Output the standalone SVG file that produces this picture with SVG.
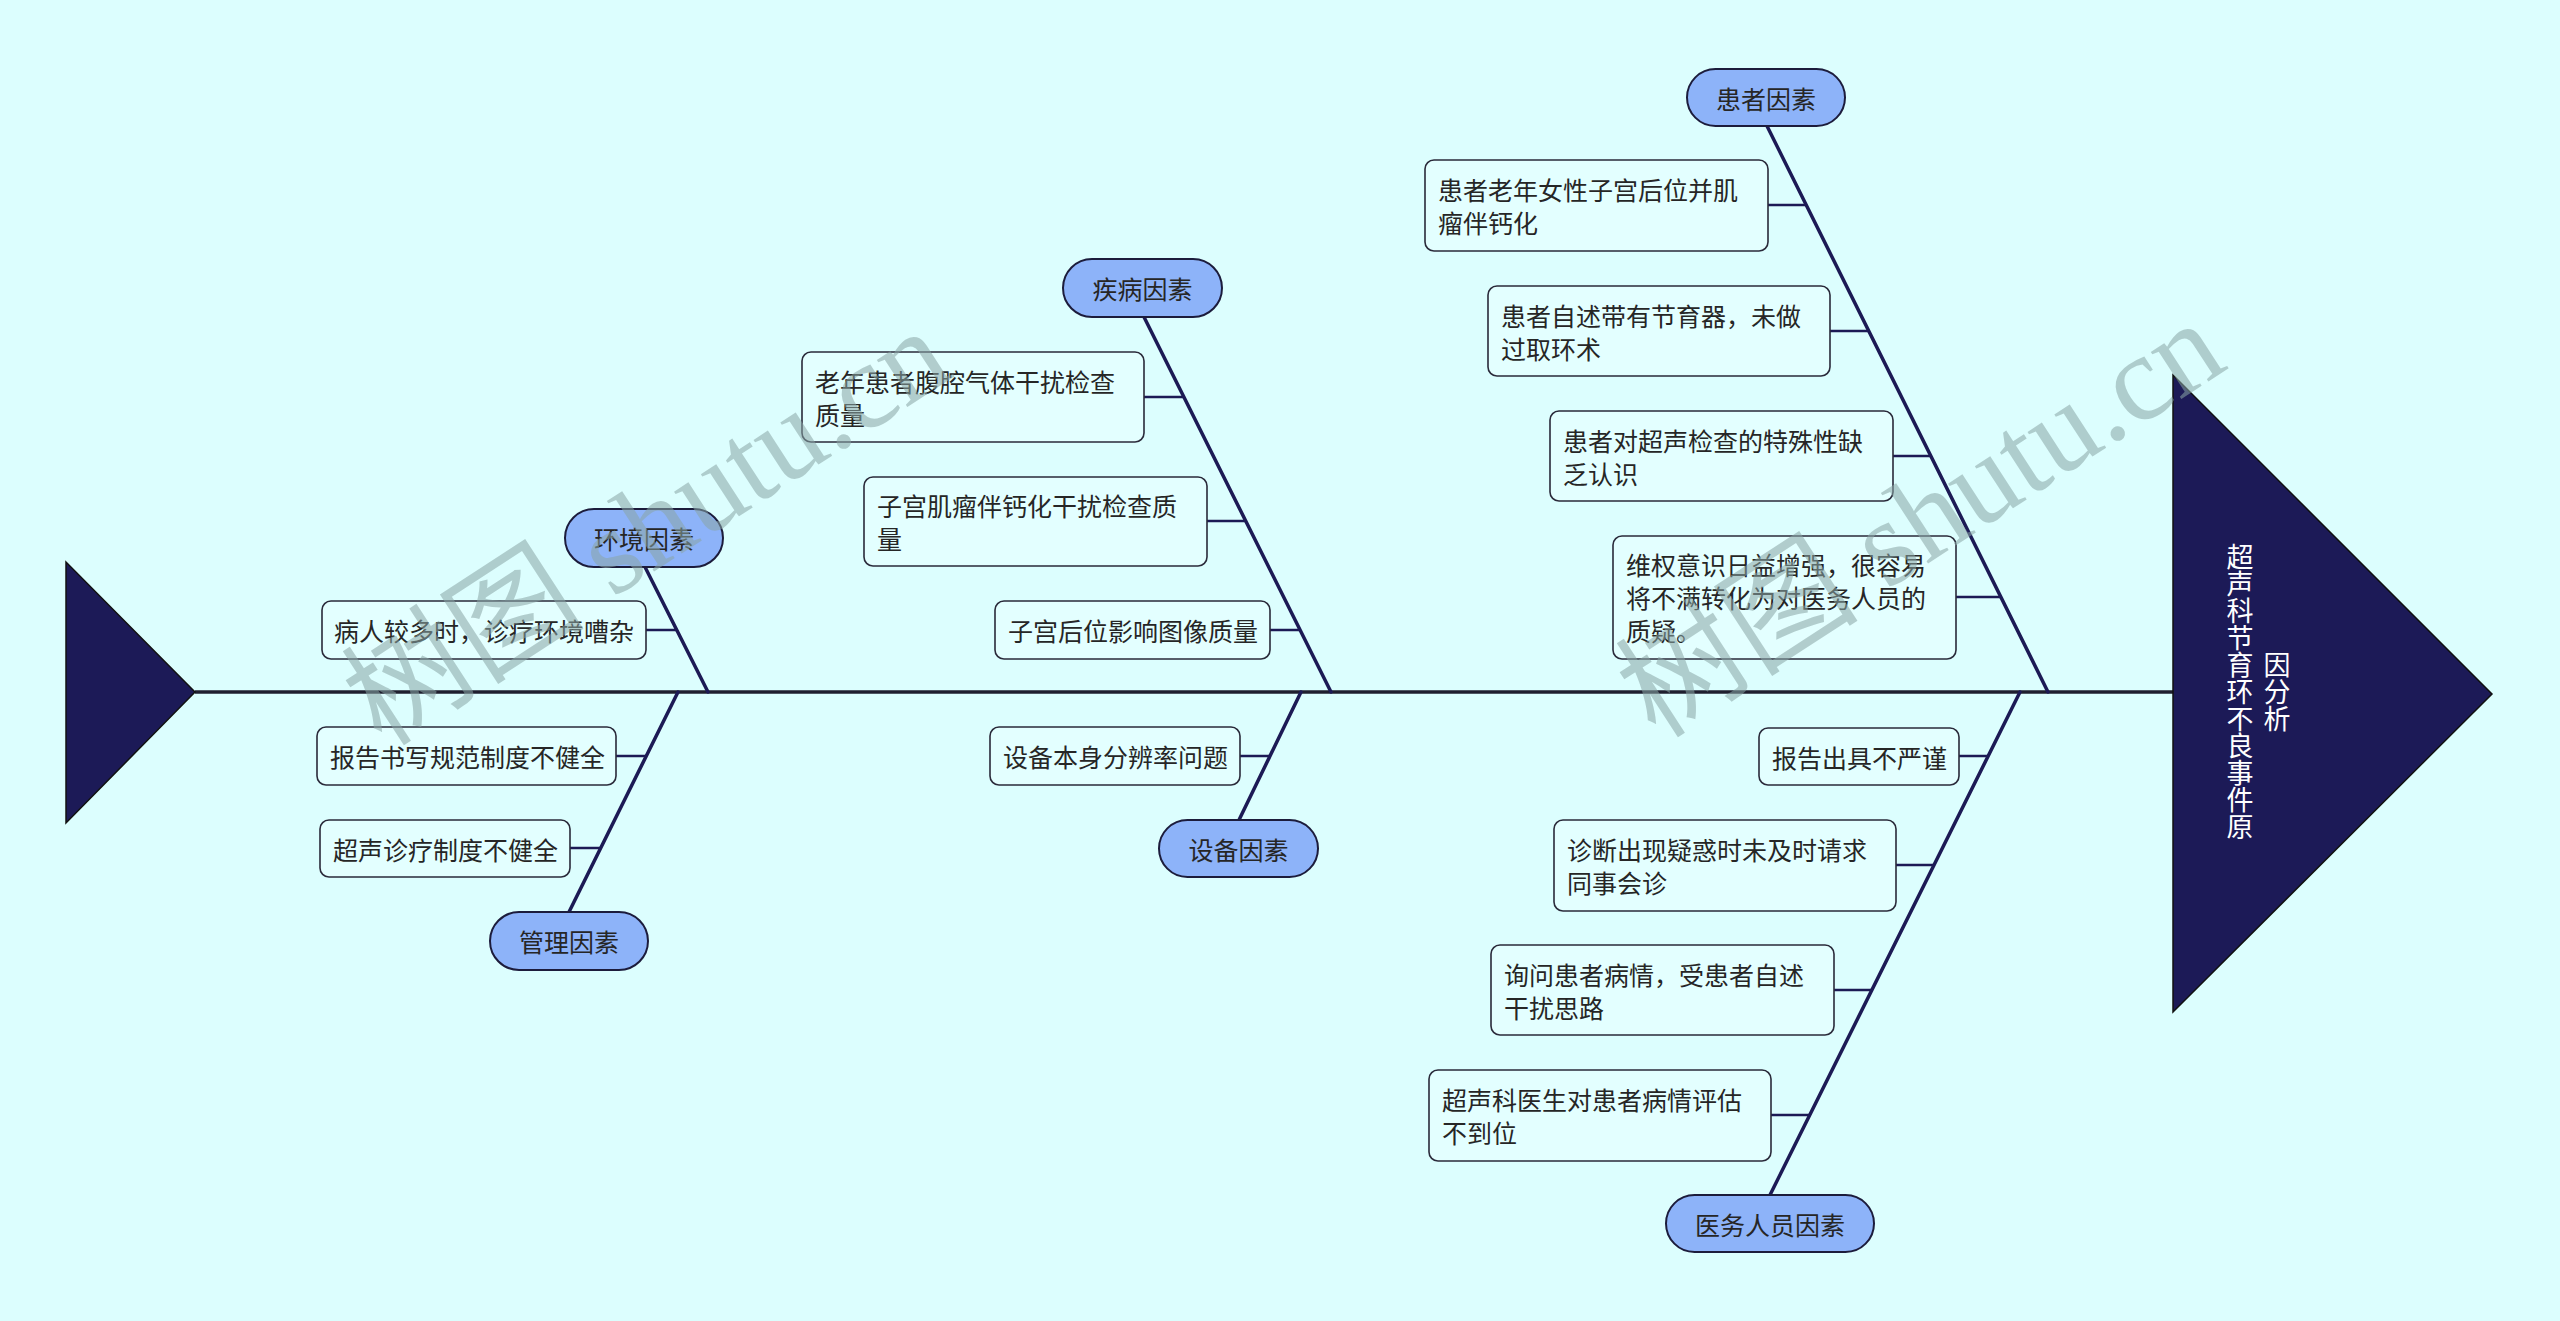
<svg xmlns="http://www.w3.org/2000/svg" width="2560" height="1321" viewBox="0 0 2560 1321">
<style>
.bg{fill:#dcfefe}
.spine{stroke:#1f1f2f;stroke-width:3.5;fill:none}
.bone{stroke:#1c1a55;stroke-width:3.5;fill:none;stroke-linecap:round}
.link{stroke:#1c1a55;stroke-width:2.5;fill:none}
.head{fill:#1c1a57;stroke:#111;stroke-width:1.5}
.pill{fill:#8db3f9;stroke:#1c1c3c;stroke-width:2}
.box{fill:#e3ffff;stroke:#2a2a3a;stroke-width:1.6}
.t{font-family:"Noto Sans CJK SC","Liberation Sans",sans-serif;font-size:25px;fill:#262626;dominant-baseline:central}
.c{text-anchor:middle}
.title{font-family:"Noto Sans CJK SC","Liberation Sans",sans-serif;font-size:27px;fill:#ffffff;writing-mode:vertical-rl;text-anchor:middle}
.wm{font-family:"Liberation Serif","Noto Sans CJK SC",serif;font-size:122px;fill:#8aa6a6;opacity:0.55}
</style>
<rect class="bg" x="0" y="0" width="2560" height="1321"/>

<g id="connectors">
<line class="spine" x1="195" y1="692" x2="2173" y2="692"/>
<line class="bone" x1="645" y1="567" x2="708" y2="692"/>
<line class="bone" x1="678" y1="692" x2="569" y2="912"/>
<line class="bone" x1="1144" y1="317" x2="1331" y2="692"/>
<line class="bone" x1="1301" y1="692" x2="1239" y2="820"/>
<line class="bone" x1="1767" y1="126" x2="2048" y2="692"/>
<line class="bone" x1="2020" y1="692" x2="1770" y2="1195"/>
<line class="link" x1="646" y1="630" x2="677" y2="630"/>
<line class="link" x1="616" y1="756" x2="646" y2="756"/>
<line class="link" x1="570" y1="848" x2="601" y2="848"/>
<line class="link" x1="1144" y1="397" x2="1184" y2="397"/>
<line class="link" x1="1207" y1="521" x2="1246" y2="521"/>
<line class="link" x1="1270" y1="630" x2="1300" y2="630"/>
<line class="link" x1="1240" y1="756" x2="1270" y2="756"/>
<line class="link" x1="1768" y1="205" x2="1806" y2="205"/>
<line class="link" x1="1830" y1="331" x2="1869" y2="331"/>
<line class="link" x1="1893" y1="456" x2="1931" y2="456"/>
<line class="link" x1="1956" y1="597" x2="2000" y2="597"/>
<line class="link" x1="1959" y1="756" x2="1988" y2="756"/>
<line class="link" x1="1896" y1="865" x2="1934" y2="865"/>
<line class="link" x1="1834" y1="990" x2="1872" y2="990"/>
<line class="link" x1="1771" y1="1115" x2="1809" y2="1115"/>
</g>

<g id="tail">
<polygon class="head" points="66,562 66,823 195,692"/>
</g>

<g id="head">
<polygon class="head" points="2173,375 2173,1012 2492,694"/>
<text class="title" x="2240" y="692">超声科节育环不良事件原</text>
<text class="title" x="2277" y="692">因分析</text>
</g>

<g id="n-env">
<rect class="pill" x="565" y="509" width="158" height="58" rx="29"/>
<text class="t c" x="644" y="538">环境因素</text>
</g>
<g id="n-env-1">
<rect class="box" x="322" y="601" width="324" height="58" rx="9"/>
<text class="t" x="334" y="630">病人较多时，诊疗环境嘈杂</text>
</g>

<g id="n-mgmt">
<rect class="pill" x="490" y="912" width="158" height="58" rx="29"/>
<text class="t c" x="569" y="941">管理因素</text>
</g>
<g id="n-mgmt-1">
<rect class="box" x="317" y="727" width="299" height="58" rx="9"/>
<text class="t" x="330" y="756">报告书写规范制度不健全</text>
</g>
<g id="n-mgmt-2">
<rect class="box" x="320" y="820" width="250" height="57" rx="9"/>
<text class="t" x="333" y="848.5">超声诊疗制度不健全</text>
</g>

<g id="n-disease">
<rect class="pill" x="1063" y="259" width="159" height="58" rx="29"/>
<text class="t c" x="1142.5" y="288">疾病因素</text>
</g>
<g id="n-disease-1">
<rect class="box" x="802" y="352" width="342" height="90" rx="9"/>
<text class="t" x="815" y="380.5">老年患者腹腔气体干扰检查</text>
<text class="t" x="815" y="413.5">质量</text>
</g>
<g id="n-disease-2">
<rect class="box" x="864" y="477" width="343" height="89" rx="9"/>
<text class="t" x="877" y="505">子宫肌瘤伴钙化干扰检查质</text>
<text class="t" x="877" y="538">量</text>
</g>
<g id="n-disease-3">
<rect class="box" x="995" y="601" width="275" height="58" rx="9"/>
<text class="t" x="1008" y="630">子宫后位影响图像质量</text>
</g>

<g id="n-equip">
<rect class="pill" x="1159" y="820" width="159" height="57" rx="28.5"/>
<text class="t c" x="1238.5" y="848.5">设备因素</text>
</g>
<g id="n-equip-1">
<rect class="box" x="990" y="727" width="250" height="58" rx="9"/>
<text class="t" x="1003" y="756">设备本身分辨率问题</text>
</g>

<g id="n-patient">
<rect class="pill" x="1687" y="69" width="158" height="57" rx="28.5"/>
<text class="t c" x="1766" y="97.5">患者因素</text>
</g>
<g id="n-patient-1">
<rect class="box" x="1425" y="160" width="343" height="91" rx="9"/>
<text class="t" x="1438" y="189">患者老年女性子宫后位并肌</text>
<text class="t" x="1438" y="222">瘤伴钙化</text>
</g>
<g id="n-patient-2">
<rect class="box" x="1488" y="286" width="342" height="90" rx="9"/>
<text class="t" x="1501" y="314.5">患者自述带有节育器，未做</text>
<text class="t" x="1501" y="347.5">过取环术</text>
</g>
<g id="n-patient-3">
<rect class="box" x="1550" y="411" width="343" height="90" rx="9"/>
<text class="t" x="1563" y="439.5">患者对超声检查的特殊性缺</text>
<text class="t" x="1563" y="472.5">乏认识</text>
</g>
<g id="n-patient-4">
<rect class="box" x="1613" y="536" width="343" height="123" rx="9"/>
<text class="t" x="1626" y="564">维权意识日益增强，很容易</text>
<text class="t" x="1626" y="597">将不满转化为对医务人员的</text>
<text class="t" x="1626" y="630">质疑。</text>
</g>

<g id="n-staff">
<rect class="pill" x="1666" y="1195" width="208" height="57" rx="28.5"/>
<text class="t c" x="1770" y="1223.5">医务人员因素</text>
</g>
<g id="n-staff-1">
<rect class="box" x="1759" y="728" width="200" height="57" rx="9"/>
<text class="t" x="1772" y="756.5">报告出具不严谨</text>
</g>
<g id="n-staff-2">
<rect class="box" x="1554" y="820" width="342" height="91" rx="9"/>
<text class="t" x="1567" y="849">诊断出现疑惑时未及时请求</text>
<text class="t" x="1567" y="882">同事会诊</text>
</g>
<g id="n-staff-3">
<rect class="box" x="1491" y="945" width="343" height="90" rx="9"/>
<text class="t" x="1504" y="973.5">询问患者病情，受患者自述</text>
<text class="t" x="1504" y="1006.5">干扰思路</text>
</g>
<g id="n-staff-4">
<rect class="box" x="1429" y="1070" width="342" height="91" rx="9"/>
<text class="t" x="1442" y="1099">超声科医生对患者病情评估</text>
<text class="t" x="1442" y="1132">不到位</text>
</g>

<g id="watermarks">
<text class="wm" transform="translate(382,748) rotate(-33)">树图 shutu.cn</text>
<text class="wm" transform="translate(1656,740) rotate(-33)">树图 shutu.cn</text>
</g>
</svg>
